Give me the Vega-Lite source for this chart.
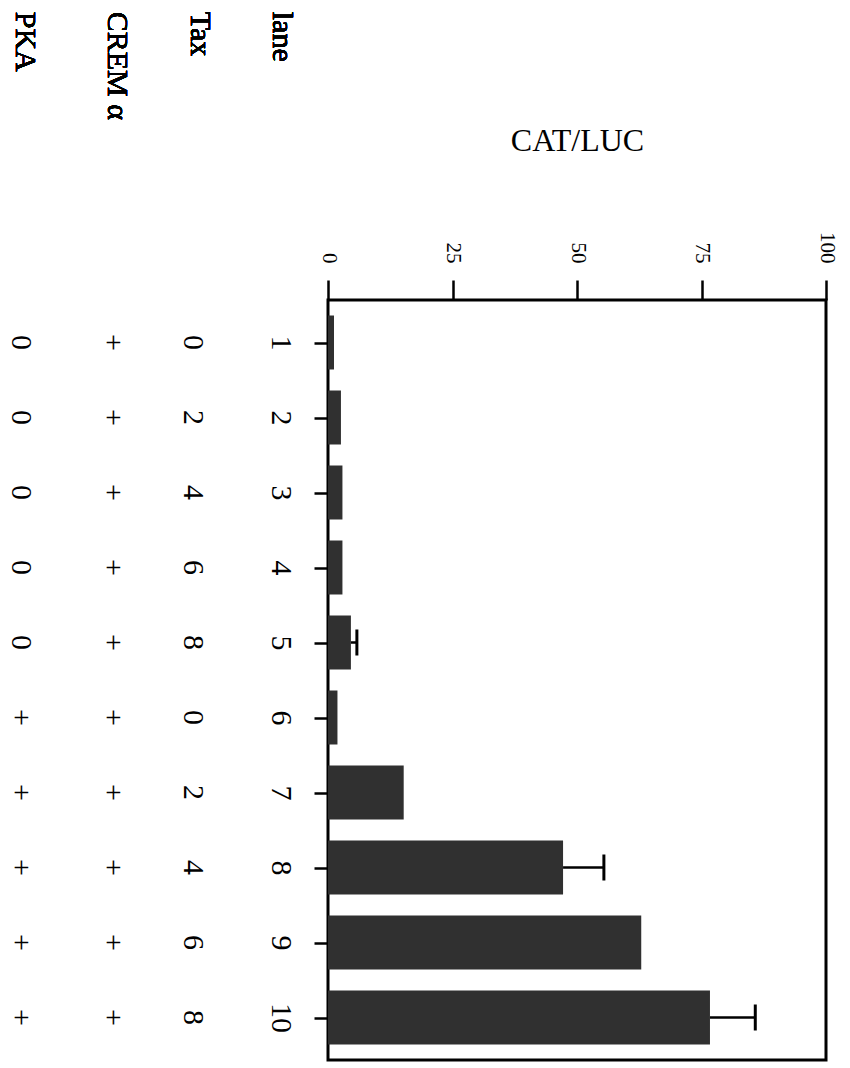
{
  "$schema": "https://vega.github.io/schema/vega-lite/v6.json",
  "autosize": {"type": "none"},
  "padding": {"left": 328, "top": 300, "right": 24, "bottom": 8},
  "width": 498,
  "height": 760,
  "background": "white",
  "config": {
    "view": {"stroke": "black", "strokeWidth": 3},
    "font": "Liberation Serif",
    "axis": {"grid": false}
  },
  "data": {
    "values": [
      {"lane": 1, "tax": "0", "crem": "+", "pka": "0", "value": 1.2, "upper": null},
      {"lane": 2, "tax": "2", "crem": "+", "pka": "0", "value": 2.6, "upper": null},
      {"lane": 3, "tax": "4", "crem": "+", "pka": "0", "value": 2.9, "upper": null},
      {"lane": 4, "tax": "6", "crem": "+", "pka": "0", "value": 2.9, "upper": null},
      {"lane": 5, "tax": "8", "crem": "+", "pka": "0", "value": 4.6, "upper": 5.8},
      {"lane": 6, "tax": "0", "crem": "+", "pka": "+", "value": 1.9, "upper": null},
      {"lane": 7, "tax": "2", "crem": "+", "pka": "+", "value": 15.2, "upper": null},
      {"lane": 8, "tax": "4", "crem": "+", "pka": "+", "value": 47.2, "upper": 55.4},
      {"lane": 9, "tax": "6", "crem": "+", "pka": "+", "value": 62.9, "upper": null},
      {"lane": 10, "tax": "8", "crem": "+", "pka": "+", "value": 76.7, "upper": 85.8}
    ]
  },
  "layer": [
    {
      "mark": {"type": "bar", "orient": "horizontal", "size": 54, "color": "#303030"},
      "encoding": {
        "x": {
          "field": "value", "type": "quantitative",
          "scale": {"domain": [0, 100], "nice": false, "zero": false},
          "axis": {
            "orient": "top", "values": [0, 25, 50, 75, 100], "domain": false,
            "tickSize": 20, "tickWidth": 2.5, "tickColor": "black",
            "labelAngle": 90, "labelAlign": "right", "labelBaseline": "middle",
            "labelPadding": 17, "labelFontSize": 21, "labelFont": "Liberation Serif",
            "labelColor": "black", "labelFlush": false, "labelOverlap": false,
            "title": "CAT/LUC", "titleFont": "Liberation Serif", "titleFontSize": 32,
            "titleFontWeight": "normal", "titleColor": "black", "titlePadding": 74
          }
        },
        "y": {
          "field": "lane", "type": "quantitative",
          "scale": {"domain": [0.5, 10.5], "nice": false, "zero": false, "reverse": true},
          "axis": {
            "orient": "left", "values": [1, 2, 3, 4, 5, 6, 7, 8, 9, 10], "format": "d", "domain": false,
            "tickSize": 14, "tickWidth": 2.5, "tickColor": "black",
            "labelAngle": 90, "labelAlign": "center", "labelBaseline": "top",
            "labelPadding": 19, "labelFontSize": 30, "labelFont": "Liberation Serif",
            "labelColor": "black", "labelFlush": false, "labelOverlap": false,
            "title": null
          }
        }
      }
    },
    {
      "transform": [{"filter": {"field": "upper", "valid": true}}],
      "mark": {"type": "rule", "color": "black", "strokeWidth": 2.5},
      "encoding": {
        "x": {"field": "value", "type": "quantitative", "title": "CAT/LUC"},
        "x2": {"field": "upper"},
        "y": {"field": "lane", "type": "quantitative", "title": null}
      }
    },
    {
      "transform": [{"filter": {"field": "upper", "valid": true}}],
      "mark": {"type": "tick", "orient": "vertical", "color": "black", "size": 26, "thickness": 3, "opacity": 1},
      "encoding": {
        "x": {"field": "upper", "type": "quantitative", "title": "CAT/LUC"},
        "y": {"field": "lane", "type": "quantitative", "title": null}
      }
    },
    {
      "mark": {"type": "text", "angle": 90, "align": "center", "baseline": "middle", "fontSize": 30, "fontWeight": "normal", "font": "Liberation Serif", "color": "black"},
      "encoding": {
        "x": {"datum": -27.1},
        "y": {"field": "lane", "type": "quantitative", "title": null},
        "text": {"field": "tax"}
      }
    },
    {
      "mark": {"type": "text", "angle": 90, "align": "center", "baseline": "middle", "fontSize": 30, "fontWeight": "normal", "font": "Liberation Serif", "color": "black"},
      "encoding": {
        "x": {"datum": -43.2},
        "y": {"field": "lane", "type": "quantitative", "title": null},
        "text": {"field": "crem"}
      }
    },
    {
      "mark": {"type": "text", "angle": 90, "align": "center", "baseline": "middle", "fontSize": 30, "fontWeight": "normal", "font": "Liberation Serif", "color": "black"},
      "encoding": {
        "x": {"datum": -61.6},
        "y": {"field": "lane", "type": "quantitative", "title": null},
        "text": {"field": "pka"}
      }
    },
    {
      "mark": {"type": "text", "text": "lane", "angle": 90, "align": "left", "baseline": "middle", "fontSize": 30, "fontWeight": "normal", "font": "Liberation Serif", "color": "black"},
      "encoding": {"x": {"datum": -9.2}, "y": {"datum": -3.41}}
    },
    {
      "mark": {"type": "text", "text": "Tax", "angle": 90, "align": "left", "baseline": "middle", "fontSize": 30, "fontWeight": "normal", "font": "Liberation Serif", "color": "black"},
      "encoding": {"x": {"datum": -25.7}, "y": {"datum": -3.41}}
    },
    {
      "mark": {"type": "text", "text": "CREM α", "angle": 90, "align": "left", "baseline": "middle", "fontSize": 30, "fontWeight": "normal", "font": "Liberation Serif", "color": "black"},
      "encoding": {"x": {"datum": -42.4}, "y": {"datum": -3.41}}
    },
    {
      "mark": {"type": "text", "text": "PKA", "angle": 90, "align": "left", "baseline": "middle", "fontSize": 30, "fontWeight": "normal", "font": "Liberation Serif", "color": "black"},
      "encoding": {"x": {"datum": -60.8}, "y": {"datum": -3.41}}
    }
  ]
}
